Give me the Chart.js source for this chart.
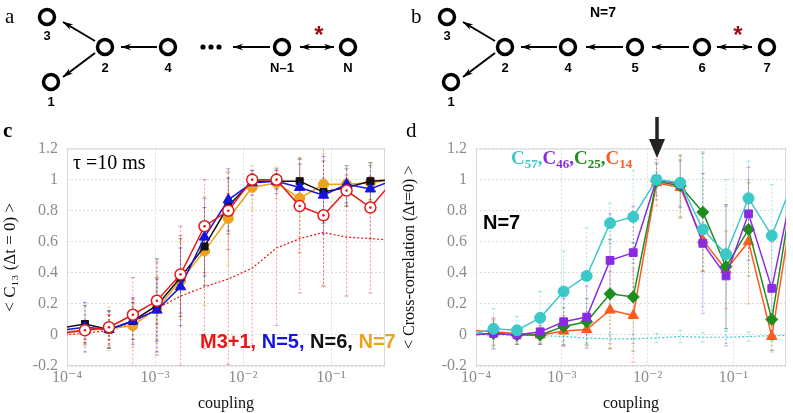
<!DOCTYPE html>
<html>
<head>
<meta charset="utf-8">
<script src="https://cdn.jsdelivr.net/npm/chart.js@4.4.1/dist/chart.umd.min.js"></script>
<style>
  body { margin: 0; width: 793px; height: 413px; position: relative; overflow: hidden; background: #fff; }
  .abs { position: absolute; white-space: nowrap; }
  .plab { font-family: 'Liberation Serif', serif; font-size: 21px; line-height: 1; }
  .leg { font-family: 'Liberation Sans', Arial, sans-serif; font-weight: bold; font-size: 20px; line-height: 1; }
  .cc { font-family: 'Liberation Serif', serif; font-weight: bold; font-size: 19px; line-height: 1; }
  .cc sub { font-size: 13px; vertical-align: -4px; }
  svg text { font-family: 'Liberation Sans', Arial, sans-serif; font-weight: bold; font-size: 13px; text-anchor: middle; }
</style>
</head>
<body>

<canvas id="chartC" class="abs" style="left:0;top:130px" width="400" height="283"></canvas>
<canvas id="chartD" class="abs" style="left:400px;top:130px" width="393" height="283"></canvas>

<!-- network diagrams a and b -->
<svg class="abs" style="left:0;top:0" width="793" height="165">
  <defs>
    <marker id="ah" markerWidth="11" markerHeight="8" refX="10" refY="4" orient="auto-start-reverse" markerUnits="userSpaceOnUse">
      <path d="M10,4 L0,0.8 L3,4 L0,7.2 z" fill="#000"/>
    </marker>
  </defs>
  <g stroke="#000" stroke-width="2" fill="none">
    <!-- a -->
    <line x1="95" y1="41" x2="63" y2="22" marker-end="url(#ah)"/>
    <line x1="95" y1="53" x2="63" y2="77" marker-end="url(#ah)"/>
    <line x1="157" y1="47" x2="121" y2="47" marker-end="url(#ah)"/>
    <line x1="270" y1="47" x2="233" y2="47" marker-end="url(#ah)"/>
    <line x1="300" y1="47" x2="334" y2="47" marker-start="url(#ah)" marker-end="url(#ah)"/>
    <!-- b -->
    <line x1="495" y1="41" x2="463" y2="22" marker-end="url(#ah)"/>
    <line x1="495" y1="53" x2="463" y2="77" marker-end="url(#ah)"/>
    <line x1="557" y1="47" x2="521" y2="47" marker-end="url(#ah)"/>
    <line x1="623" y1="47" x2="586" y2="47" marker-end="url(#ah)"/>
    <line x1="689" y1="47" x2="652" y2="47" marker-end="url(#ah)"/>
    <line x1="717" y1="47" x2="752" y2="47" marker-start="url(#ah)" marker-end="url(#ah)"/>
  </g>
  <g stroke="#000" stroke-width="3.5" fill="#fff">
    <circle cx="47" cy="17" r="7.5"/><circle cx="105" cy="47" r="7.5"/><circle cx="51" cy="82" r="7.5"/>
    <circle cx="168" cy="47" r="7.5"/><circle cx="282" cy="47" r="7.5"/><circle cx="348" cy="47" r="7.5"/>
    <circle cx="447" cy="17" r="7.5"/><circle cx="505" cy="47" r="7.5"/><circle cx="451" cy="82" r="7.5"/>
    <circle cx="568" cy="47" r="7.5"/><circle cx="635" cy="47" r="7.5"/><circle cx="702" cy="47" r="7.5"/>
    <circle cx="767" cy="47" r="7.5"/>
  </g>
  <g fill="#000">
    <circle cx="203" cy="47" r="2.6"/><circle cx="211" cy="47" r="2.6"/><circle cx="219" cy="47" r="2.6"/>
  </g>
  <text x="47" y="40">3</text><text x="105" y="72">2</text><text x="51" y="106">1</text>
  <text x="168" y="72">4</text><text x="282" y="72">N–1</text><text x="348" y="72">N</text>
  <text x="447" y="40">3</text><text x="505" y="72">2</text><text x="451" y="106">1</text>
  <text x="568" y="72">4</text><text x="635" y="72">5</text><text x="702" y="72">6</text><text x="767" y="72">7</text>
  <text x="603" y="17" style="font-size:14px">N=7</text>
  <text x="319" y="43" style="font-size:24px;fill:#9a1010">*</text>
  <text x="738" y="43" style="font-size:24px;fill:#9a1010">*</text>
  <!-- arrow marking the peak in d -->
  <line x1="657" y1="117" x2="657" y2="142" stroke="#222" stroke-width="3.5"/>
  <path d="M649,139 L665,139 L657,158 z" fill="#222"/>
</svg>

<div class="abs plab" style="left:5px;top:6px">a</div>
<div class="abs plab" style="left:411px;top:6px">b</div>
<div class="abs plab" style="left:3px;top:120px;font-weight:bold">c</div>
<div class="abs plab" style="left:406px;top:120px">d</div>

<div class="abs plab" style="left:73px;top:152px;font-size:20px">τ =10 ms</div>
<div class="abs leg" style="left:200px;top:331px">
  <span style="color:#e81818">M3+1,</span> <span style="color:#1414e0">N=5,</span> <span style="color:#111">N=6,</span> <span style="color:#eba21c">N=7</span>
</div>
<div class="abs leg" style="left:483px;top:212px">N=7</div>
<div class="abs cc" style="left:511px;top:148px">
  <span style="color:#3cc8c8">C<sub>57</sub>,</span><span style="color:#8a2be2">C<sub>46</sub>,</span><span style="color:#1e8c1e">C<sub>25</sub>,</span><span style="color:#ff5a1e">C<sub>14</sub></span>
</div>

<script>
// DATA
const coupling = [8.6e-5, 1.6e-4, 3.0e-4, 5.6e-4, 1.05e-3, 1.95e-3, 3.65e-3, 6.8e-3, 1.27e-2, 2.4e-2, 4.4e-2, 8.2e-2, 0.15, 0.28, 0.52];
const decades = [1e-4, 1e-3, 1e-2, 1e-1];
const decadeLabels = ['10⁻⁴', '10⁻³', '10⁻²', '10⁻¹'];
const yTicks = [-0.2, 0, 0.2, 0.4, 0.6, 0.8, 1, 1.2];

// panel c
const m31  = [0.01, 0.03, 0.05, 0.13, 0.22, 0.39, 0.70, 0.80, 1.00, 1.00, 0.83, 0.77, 0.93, 0.82, 1.00];
const n5   = [0.03, 0.05, 0.035, 0.09, 0.16, 0.31, 0.63, 0.87, 0.98, 0.99, 0.95, 0.90, 0.97, 0.94, 1.00];
const n6   = [0.045, 0.07, 0.035, 0.09, 0.19, 0.37, 0.57, 0.83, 0.99, 0.99, 0.99, 0.92, 0.95, 0.99, 1.00];
const n7   = [0.02, 0.03, 0.04, 0.06, 0.17, 0.35, 0.54, 0.75, 0.95, 0.98, 0.88, 0.97, 0.97, 0.98, 1.00];
const baseC = [0.00, 0.01, 0.03, 0.08, 0.17, 0.25, 0.31, 0.36, 0.43, 0.56, 0.62, 0.66, 0.63, 0.62, 0.61];
const errM31  = [0.05, 0.06, 0.08, 0.10, 0.15, 0.25, 0.30, 0.25, 0.06, 0.06, 0.30, 0.45, 0.10, 0.20, 0.10];
const errN5   = [0.05, 0.16, 0.12, 0.15, 0.20, 0.25, 0.25, 0.20, 0.08, 0.08, 0.15, 0.25, 0.12, 0.15, 0.10];
const errN6   = [0.05, 0.12, 0.12, 0.12, 0.30, 0.25, 0.25, 0.18, 0.05, 0.05, 0.15, 0.20, 0.12, 0.12, 0.10];
const errN7   = [0.05, 0.10, 0.14, 0.14, 0.20, 0.25, 0.35, 0.30, 0.14, 0.10, 0.25, 0.20, 0.12, 0.12, 0.10];
const errBaseC = [0.05, 0.07, 0.10, 0.29, 0.30, 0.45, 0.40, 0.55, 0.50, 0.50, 0.35, 0.35, 0.38, 0.35, 0.30];

// panel d
const c57 = [0.00, 0.04, 0.03, 0.11, 0.28, 0.38, 0.72, 0.76, 1.00, 0.98, 0.68, 0.52, 0.88, 0.64, 1.02];
const c46 = [0.00, 0.01, 0.00, 0.02, 0.085, 0.115, 0.48, 0.53, 1.00, 0.97, 0.59, 0.38, 0.78, 0.30, 1.02];
const c25 = [0.00, 0.01, 0.00, 0.00, 0.055, 0.085, 0.265, 0.245, 0.99, 0.96, 0.79, 0.44, 0.68, 0.10, 1.02];
const c14 = [0.03, 0.02, 0.01, 0.00, 0.025, 0.035, 0.16, 0.125, 0.98, 0.95, 0.61, 0.42, 0.60, -0.01, 0.92];
const baseD = [0.00, 0.00, 0.00, -0.005, -0.01, -0.02, -0.025, -0.025, -0.02, -0.01, -0.015, -0.015, -0.01, -0.005, 0.00];
const errC57 = [0.05, 0.13, 0.09, 0.17, 0.26, 0.31, 0.13, 0.30, 0.05, 0.15, 0.50, 0.48, 0.24, 0.33, 0.20];
const errC46 = [0.05, 0.10, 0.06, 0.08, 0.15, 0.20, 0.30, 0.30, 0.10, 0.15, 0.45, 0.45, 0.30, 0.30, 0.20];
const errC25 = [0.05, 0.08, 0.06, 0.06, 0.12, 0.15, 0.35, 0.35, 0.12, 0.20, 0.38, 0.40, 0.30, 0.20, 0.20];
const errC14 = [0.05, 0.08, 0.05, 0.05, 0.10, 0.10, 0.25, 0.30, 0.15, 0.20, 0.20, 0.25, 0.40, 0.10, 0.20];
const errBaseD = [0.03, 0.03, 0.03, 0.03, 0.03, 0.03, 0.03, 0.03, 0.03, 0.04, 0.03, 0.04, 0.03, 0.03, 0.03];

function pts(ys) {
  return ys.map((y, i) => ({ x: coupling[i], y: y }));
}

// PLUGINS
const errorBars = {
  id: 'errorBars',
  beforeDatasetsDraw(chart) {
    const ctx = chart.ctx, a = chart.chartArea;
    const xs = chart.scales.x, ys = chart.scales.y;
    ctx.save();
    ctx.beginPath();
    ctx.rect(a.left, a.top, a.right - a.left, a.bottom - a.top);
    ctx.clip();
    chart.data.datasets.forEach(ds => {
      if (!ds.errs) return;
      ctx.strokeStyle = ds.errColor;
      ctx.lineWidth = 1;
      ds.data.forEach((p, i) => {
        const px = xs.getPixelForValue(p.x);
        const top = ys.getPixelForValue(p.y + ds.errs[i]);
        const bot = ys.getPixelForValue(p.y - ds.errs[i]);
        ctx.setLineDash([2, 2]);
        ctx.beginPath();
        ctx.moveTo(px, top); ctx.lineTo(px, bot);
        ctx.stroke();
        ctx.setLineDash([]);
        ctx.beginPath();
        ctx.moveTo(px - 2, top); ctx.lineTo(px + 2, top);
        ctx.moveTo(px - 2, bot); ctx.lineTo(px + 2, bot);
        ctx.stroke();
      });
    });
    ctx.restore();
  }
};

const frame = {
  id: 'frame',
  beforeDatasetsDraw(chart) {
    const ctx = chart.ctx, a = chart.chartArea;
    ctx.save();
    ctx.strokeStyle = '#d8d8d8';
    ctx.lineWidth = 1;
    ctx.strokeRect(a.left + 0.5, a.top + 0.5, a.right - a.left - 1, a.bottom - a.top - 1);
    ctx.restore();
  }
};

function makeOptions(yTitle, yWidth, padRight, yTitleSize) {
  return {
    responsive: false,
    animation: false,
    layout: { padding: { top: 16, right: padRight, left: 0, bottom: 0 } },
    plugins: { legend: { display: false }, tooltip: { enabled: false } },
    scales: {
      x: {
        type: 'logarithmic',
        min: 1e-4,
        max: 0.41,
        afterBuildTicks: s => { s.ticks = decades.map(v => ({ value: v })); },
        afterFit: s => { s.height = 47; },
        ticks: {
          color: '#8c8c8c',
          font: { family: "'Liberation Serif', 'DejaVu Serif', serif", size: 16 },
          padding: 2,
          maxRotation: 0,
          callback: v => decadeLabels[decades.findIndex(d => Math.abs(Math.log10(d) - Math.log10(v)) < 0.01)]
        },
        grid: { color: '#dcdcdc', drawTicks: false },
        border: { display: false, dash: [2, 2] },
        title: {
          display: true, text: 'coupling', color: '#111',
          font: { family: "'Liberation Serif', serif", size: 16 },
          padding: { top: 0, bottom: 0 }
        }
      },
      y: {
        min: -0.2,
        max: 1.2,
        afterBuildTicks: s => { s.ticks = yTicks.map(v => ({ value: v })); },
        afterFit: s => { s.width = yWidth; },
        ticks: {
          color: '#8c8c8c',
          font: { family: "'Liberation Serif', serif", size: 16 },
          padding: 9,
          callback: v => String(Math.round(v * 10) / 10)
        },
        grid: { color: '#dcdcdc', drawTicks: false },
        border: { display: false, dash: [2, 2] },
        title: {
          display: true, text: yTitle, color: '#111',
          font: { family: "'Liberation Serif', 'DejaVu Serif', serif", size: yTitleSize },
          padding: { top: 0, bottom: 0 }
        }
      }
    }
  };
}

function series(label, ys, errs, color, style, radius, extra) {
  return Object.assign({
    label: label,
    data: pts(ys),
    errs: errs,
    errColor: color + '70',
    borderColor: color,
    backgroundColor: color,
    pointBackgroundColor: color,
    pointBorderColor: color,
    borderWidth: 1.5,
    pointStyle: style,
    pointRadius: radius,
    pointBorderWidth: 1,
    tension: 0
  }, extra || {});
}

// CHART C
new Chart(document.getElementById('chartC'), {
  type: 'line',
  data: {
    datasets: [
      { label: 'M3+1 centre', data: pts(m31), showLine: false, pointRadius: 1.3, pointBackgroundColor: '#e81818', pointBorderWidth: 0 },
      series('M3+1', m31, errM31, '#e81818', 'circle', 5.5, { pointBackgroundColor: '#ffffff', pointBorderWidth: 1.5 }),
      series('N=5', n5, errN5, '#1414e0', 'triangle', 6),
      series('N=6', n6, errN6, '#111111', 'rect', 5),
      series('N=7', n7, errN7, '#eba21c', 'circle', 5),
      series('M3+1 baseline', baseC, errBaseC, '#e81818', 'cross', 0, { borderDash: [2, 2], borderWidth: 1.2 })
    ]
  },
  options: makeOptions('< C₁₃ (Δt = 0) >', 67, 15, 17),
  plugins: [frame, errorBars]
});

// CHART D
new Chart(document.getElementById('chartD'), {
  type: 'line',
  data: {
    datasets: [
      series('C57', c57, errC57, '#3cc8c8', 'circle', 5.5),
      series('C46', c46, errC46, '#8a2be2', 'rect', 5.5),
      series('C25', c25, errC25, '#1e8c1e', 'rectRot', 6),
      series('C14', c14, errC14, '#ff5a1e', 'triangle', 6),
      series('C57 baseline', baseD, errBaseD, '#3cc8c8', 'cross', 0, { borderDash: [2, 2], borderWidth: 1.2 })
    ]
  },
  options: makeOptions('< Cross-correlation (Δt=0) >', 76, 5, 16),
  plugins: [frame, errorBars]
});
</script>
</body>
</html>
